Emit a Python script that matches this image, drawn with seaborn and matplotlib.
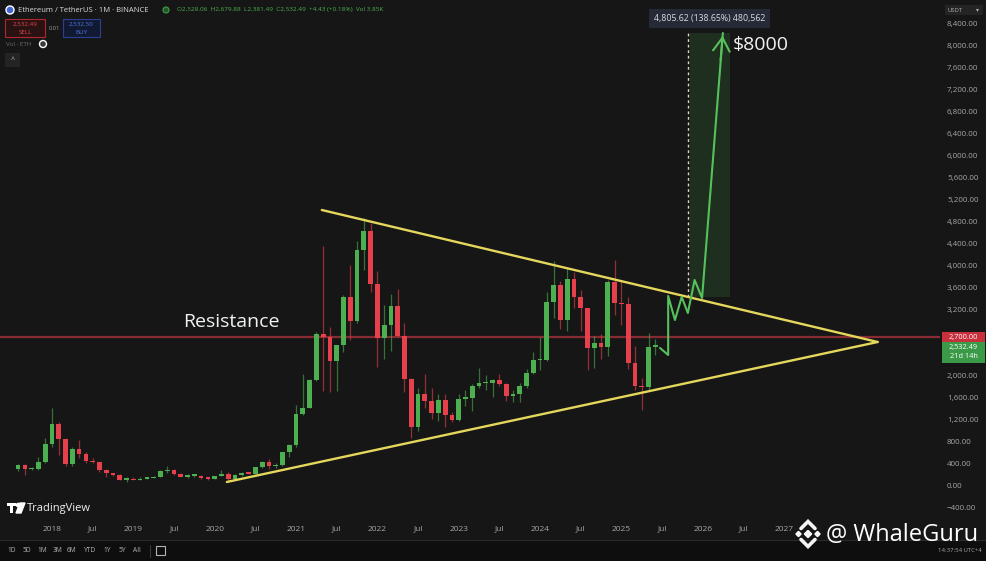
import matplotlib
matplotlib.use("Agg")
import numpy as np
import pandas as pd
import matplotlib.pyplot as plt
import matplotlib.patches as mpatches
from matplotlib.transforms import IdentityTransform
import seaborn as sns

# monthly ETH/USDT candles, month index 0 = Jan 2018 (first candle Aug 2017)
months = list(range(-5, 90))
opens = [301, 384, 302, 305, 440,
         755, 1118, 855, 396, 670, 577, 455, 432, 283, 232, 198, 113,
         131, 106, 136, 141, 162, 268, 290, 218, 172, 180, 182, 151,
         129, 179, 218, 133, 206, 231, 226, 345, 434, 360, 386, 616,
         737, 1312, 1421, 1919, 2772, 2707, 2275, 2556, 3433, 3001, 4288, 4631,
         3677, 2688, 2920, 3281, 2727, 1941, 1067, 1678, 1553, 1328, 1572, 1294,
         1196, 1585, 1605, 1821, 1869, 1874, 1934, 1856, 1645, 1671, 1815, 2052,
         2282, 2283, 3340, 3647, 3014, 3763, 3432, 3232, 2513, 2602, 2519, 3705,
         3332, 3300, 2237, 1822, 1793, 2528]
highs = [400, 394, 350, 522, 881,
         1423, 1161, 880, 710, 838, 624, 516, 433, 301, 236, 224, 158,
         160, 165, 147, 185, 288, 362, 316, 237, 223, 198, 195, 154,
         184, 288, 253, 227, 246, 253, 348, 446, 488, 420, 622, 756,
         1476, 2036, 1943, 2797, 4372, 2891, 2560, 3467, 4027, 4460, 4868, 4778,
         3900, 3282, 3483, 3580, 2970, 1972, 1783, 2030, 1790, 1664, 1680, 1353,
         1680, 1743, 1857, 2141, 2018, 1940, 2029, 1880, 1754, 1865, 2135, 2445,
         2717, 3523, 4093, 3730, 3977, 3887, 3563, 3240, 2729, 2769, 3740, 4107,
         3745, 3436, 2550, 1956, 2788, 2680]
lows = [278, 197, 285, 285, 410,
        716, 565, 366, 359, 510, 413, 423, 251, 167, 188, 101, 81,
        100, 102, 125, 140, 158, 232, 193, 162, 153, 157, 131, 117,
        127, 179, 86, 128, 177, 215, 225, 335, 308, 333, 370, 533,
        714, 1290, 1416, 1900, 1728, 1700, 1718, 2444, 2651, 2971, 3935, 3524,
        2159, 2300, 2450, 2711, 1700, 880, 1000, 1422, 1220, 1190, 1073, 1157,
        1190, 1461, 1368, 1785, 1740, 1626, 1826, 1550, 1531, 1521, 1777, 2040,
        2100, 2270, 3056, 2852, 2817, 3240, 2810, 2111, 2150, 2300, 2357, 3100,
        2920, 2120, 1754, 1385, 1752, 2381]
closes = [384, 302, 305, 440, 755,
          1118, 855, 396, 670, 577, 455, 432, 283, 232, 198, 113, 131,
          106, 136, 141, 162, 268, 290, 218, 172, 180, 182, 151, 129,
          179, 218, 133, 206, 231, 226, 345, 434, 360, 386, 616, 737,
          1312, 1421, 1919, 2772, 2707, 2275, 2556, 3433, 3001, 4288, 4631, 3677,
          2688, 2920, 3281, 2727, 1941, 1067, 1678, 1553, 1328, 1572, 1294, 1196,
          1585, 1605, 1821, 1869, 1874, 1934, 1856, 1645, 1671, 1815, 2052, 2282,
          2283, 3340, 3647, 3014, 3763, 3432, 3232, 2513, 2602, 2519, 3705, 3332,
          3300, 2237, 1822, 1793, 2528, 2532]

# drawings
upper_x = [39.8, 121.8]
upper_y = [5018, 2618]
lower_x = [25.8, 121.8]
lower_y = [73, 2618]
resistance_price = 2700
path_x = [89.7, 90.9, 90.9, 91.9, 92.9, 93.8, 94.8, 95.9, 98.97]
path_y = [2509, 2382, 3455, 3018, 3436, 3145, 3745, 3418, 8236]
target_box = (94.1, 100.0, 3436, 8236)
dash_x = 93.8

tick_pos = list(range(0, 109, 6))
tick_labels = ["2018", "Jul", "2019", "Jul", "2020", "Jul", "2021", "Jul", "2022", "Jul",
               "2023", "Jul", "2024", "Jul", "2025", "Jul", "2026", "Jul", "2027"]
price_ticks = [-400, 0, 400, 800, 1200, 1600, 2000, 3200, 3600, 4000, 4400, 4800,
               5200, 5600, 6000, 6400, 6800, 7200, 7600, 8000, 8400]

BG = "#161616"
UP = "#4caf50"
DOWN = "#e5404b"
YEL = "#e4d75c"
GRAY = "#a6a6a6"
W, H = 986, 561

sns.set_theme(style="dark", rc={"axes.facecolor": BG, "figure.facecolor": BG})
plt.rcParams["font.family"] = ["Open Sans", "DejaVu Sans"]

fig = plt.figure(figsize=(W / 100, H / 100), dpi=100)
ax = fig.add_axes([0, 43 / H, 940 / W, 518 / H])
ax.set_facecolor(BG)
ax.grid(False)
for s in ax.spines.values():
    s.set_visible(False)

df = pd.DataFrame({"m": months, "o": opens, "h": highs, "l": lows, "c": closes})
df["up"] = df["c"] >= df["o"]
df["col"] = np.where(df["up"], UP, DOWN)
body_lo = df[["o", "c"]].min(axis=1)
body_h = (df["c"] - df["o"]).abs().clip(lower=30)

ax.vlines(df["m"], df["l"], df["h"], colors=df["col"], lw=0.9, alpha=0.6, zorder=2)
ax.bar(df["m"], body_h, bottom=body_lo, width=0.7, color=df["col"], linewidth=0, zorder=3)

# resistance
ax.axhline(resistance_price, color="#9c2f38", lw=1.6, alpha=0.85, zorder=1)

# triangle
tri = pd.DataFrame({"x": upper_x + lower_x, "y": upper_y + lower_y,
                    "side": ["upper", "upper", "lower", "lower"]})
sns.lineplot(data=tri, x="x", y="y", units="side", estimator=None, color=YEL,
             lw=1.7, ax=ax, zorder=4)

# target zone
x0, x1, y0, y1 = target_box
ax.add_patch(mpatches.Rectangle((x0, y0), x1 - x0, y1 - y0, color=UP, alpha=0.17,
                                lw=0, zorder=1))
ax.vlines(dash_x, y0, y1, colors="#d9d6c4", lw=1, linestyles=(0, (2, 2)), zorder=2)

proj = pd.DataFrame({"x": path_x, "y": path_y})
sns.lineplot(data=proj, x="x", y="y", sort=False, estimator=None, color="#56c15c",
             lw=1.5, ax=ax, zorder=5)
ax.annotate("", xy=(path_x[-1], path_y[-1]), xytext=(98.6, 7690),
            arrowprops=dict(arrowstyle="->,head_length=0.8,head_width=0.5",
                            color="#56c15c", lw=1.5), zorder=5)

ax.text(97.05, 8500, "4,805.62 (138.65%) 480,562", ha="center", va="center",
        fontsize=6.3, color="#d8dbe2",
        bbox=dict(boxstyle="square,pad=0.55", fc="#252a36", ec="none"), zorder=6)
ax.text(100.4, 8018, "$8000", ha="left", va="center", fontsize=14, color="#f2f2f2", zorder=6)
ax.text(19.3, 2982, "Resistance", ha="left", va="center", fontsize=14, color="#f2f2f2", zorder=6)

ax.set_xlim(-7.67, 131.0)
ax.set_ylim(-582, 8836)
ax.set_xlabel("")
ax.set_ylabel("")
ax.set_xticks(tick_pos, tick_labels)
ax.yaxis.tick_right()
ax.set_yticks(price_ticks, [f"{v:,.2f}".replace("-", "\u2212") for v in price_ticks])
ax.tick_params(axis="x", length=0, pad=5.5, labelsize=6, labelcolor=GRAY)
ax.tick_params(axis="y", length=0, pad=5, labelsize=5.8, labelcolor=GRAY)


# ---- screen chrome (pixel coordinates, y from top) ----
def px(x, y):
    return x / W, 1 - y / H


def box(x, y, w, h, fc, ec="none", lw=0.8, z=2):
    fig.add_artist(mpatches.Rectangle((x, H - y - h), w, h, transform=IdentityTransform(),
                                      fc=fc, ec=ec, lw=lw, zorder=z))


def label(x, y, s, size=5, color=GRAY, ha="left", **kw):
    fig.text(*px(x, y), s, fontsize=size, color=color, ha=ha, va="center", **kw)


# header
fig.add_artist(mpatches.Circle((10, H - 10), 4, transform=IdentityTransform(), fc="#4465d6", zorder=3))
label(18, 10, "Ethereum / TetherUS · 1M · BINANCE", 5.5, "#dcdcdc")
fig.add_artist(mpatches.Circle((166, H - 10), 3, transform=IdentityTransform(), fc="#1f5a27",
                               ec="#3f9e48", lw=0.8, zorder=3))
label(177, 10, "O2,528.06  H2,679.88  L2,381.49  C2,532.49  +4.43 (+0.18%)  Vol 3.85K", 4.6, "#4caf50")
box(5, 19, 40, 18, "#2a1213", "#b3262c")
label(25, 24, "2,532.49", 4.5, "#e0474f", ha="center")
label(25, 32, "SELL", 4.5, "#e0474f", ha="center")
label(54, 28, "0.01", 4.2, "#9a9a9a", ha="center")
box(63, 19, 37, 18, "#121a33", "#2c3f8f")
label(81.5, 24, "2,532.50", 4.5, "#4f73e0", ha="center")
label(81.5, 32, "BUY", 4.5, "#4f73e0", ha="center")
label(6, 44, "Vol · ETH", 4.5, "#6c6c6c")
fig.add_artist(mpatches.Circle((43, H - 44), 3.5, transform=IdentityTransform(), fc="#3a3a3a", zorder=3))
box(5, 53, 15, 14, "#242424")
label(12.5, 60, "^", 5, "#bdbdbd", ha="center")

# price axis extras
box(945, 5, 38, 10, "#242424")
label(948, 10, "USDT", 4.2, "#b0b0b0")
label(979, 10, "▾", 4.2, "#b0b0b0", ha="right")
box(942, 332, 43, 10, "#c8303c")
label(963.5, 337, "2,700.00", 5.3, "#ffffff", ha="center")
box(942, 342, 43, 21, "#3b9a47")
label(963.5, 347.5, "2,532.49", 5.3, "#ffffff", ha="center")
label(963.5, 356.5, "21d 14h", 5.3, "#ffffff", ha="center")

# TradingView mark
box(7, 503, 9, 3, "#ffffff", z=3)
box(10, 503, 3, 10, "#ffffff", z=3)
fig.add_artist(mpatches.Circle((18, H - 505), 1.6, transform=IdentityTransform(), fc="#ffffff", zorder=3))
fig.add_artist(mpatches.Polygon([(20, H - 503), (25, H - 503), (21, H - 513), (16, H - 513)],
                                transform=IdentityTransform(), fc="#ffffff", zorder=3))
label(27, 508.5, "TradingView", 8, "#f0f0f0")

# bottom toolbar
box(0, 540, W, 21, "#0e0e0e", z=1)
fig.add_artist(plt.Line2D([0, W], [H - 540, H - 540], transform=IdentityTransform(),
                          color="#2a2a2a", lw=0.8, zorder=2))
for xx, t in zip([12, 27, 42, 58, 72, 90, 107, 122, 137],
                 ["1D", "5D", "1M", "3M", "6M", "YTD", "1Y", "5Y", "All"]):
    label(xx, 551, t, 4.8, "#b3b3b3", ha="center")
fig.add_artist(plt.Line2D([150, 150], [H - 545, H - 557], transform=IdentityTransform(),
                          color="#3a3a3a", lw=0.8, zorder=2))
box(156, 546, 9, 9, "none", "#b3b3b3", 0.8, z=3)
label(982, 551, "14:37:54 UTC+4", 4.3, "#a8a8a8", ha="right")

# watermark
cx, cy = 808, H - 534
for dx, dy, r in [(0, 0, 3.6), (-9.5, 0, 2.6), (9.5, 0, 2.6)]:
    fig.add_artist(mpatches.RegularPolygon((cx + dx, cy + dy), 4, radius=r,
                                           transform=IdentityTransform(), fc="#f4f4f4", zorder=6))
for sgn in (1, -1):
    fig.add_artist(plt.Line2D([cx - 7, cx, cx + 7], [cy + sgn * 5.5, cy + sgn * 12.5, cy + sgn * 5.5],
                              transform=IdentityTransform(), color="#f4f4f4", lw=2.6,
                              solid_joinstyle="miter", zorder=6))
label(826, 535, "@ WhaleGuru", 17, "#ffffff")

fig.savefig("out.png", dpi=100, facecolor=BG)
